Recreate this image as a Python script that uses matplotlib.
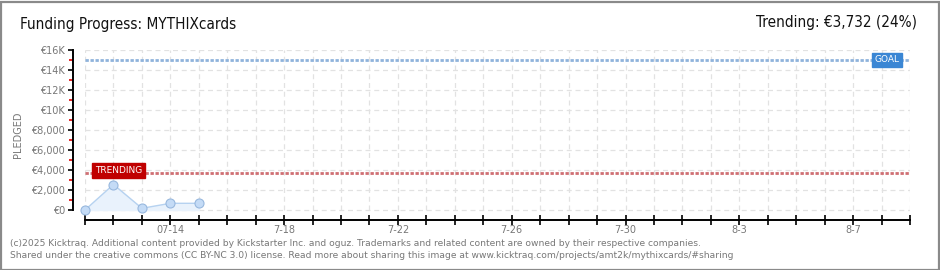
import numpy as np
import matplotlib
matplotlib.use('Agg')
import matplotlib.pyplot as plt
import matplotlib.dates as mdates
from matplotlib.patches import Rectangle

# data
dates = np.array(['2025-07-11', '2025-07-12', '2025-07-13', '2025-07-14', '2025-07-15'], dtype='datetime64[D]')
pledged = [0, 2550, 170, 670, 670]
goal = 15000
trending = 3732
x_start = np.datetime64('2025-07-11')
x_end = np.datetime64('2025-08-09')
tick_labels = {'2025-07-14': '07-14', '2025-07-18': '7-18', '2025-07-22': '7-22',
               '2025-07-26': '7-26', '2025-07-30': '7-30', '2025-08-03': '8-3',
               '2025-08-07': '8-7'}
y_ticks = [0, 2000, 4000, 6000, 8000, 10000, 12000, 14000, 16000]
y_labels = ['€0', '€2,000', '€4,000', '€6,000', '€8,000', '€10K', '€12K', '€14K', '€16K']

W, H = 940, 270
fig = plt.figure(figsize=(W / 100, H / 100), dpi=100)
fig.patches.append(Rectangle((0.5 / W, 0.5 / H), 1 - 2 / W, 1 - 2 / H, transform=fig.transFigure,
                             fill=False, edgecolor='#8a8a8a', linewidth=1.6))

ax = fig.add_axes([85 / W, 1 - 220 / H, 825 / W, 170 / H])
days = np.arange(x_start, x_end + 1)
ax.set_xlim(mdates.date2num(x_start), mdates.date2num(x_end))
ax.set_ylim(-1000, 16000)

# grid
for d in days:
    ax.plot([d, d], [0, 16000], color='#e2e2e2', lw=0.9, ls=(0, (4, 3)), zorder=0)
for v in y_ticks:
    ax.plot([x_start, x_end], [v, v], color='#e2e2e2', lw=0.9, ls=(0, (4, 3)), zorder=0)

# goal / trending lines
ax.axhline(goal, color='#8fb3dc', lw=2, ls=(0, (1.2, 0.6)), zorder=2)
ax.axhline(trending, color='#cf6f73', lw=2, ls=(0, (1.2, 0.6)), zorder=2)

# series
ax.fill_between(dates, pledged, 0, color='#e9f2fc', zorder=1)
ax.plot(dates, pledged, color='#b6d2f0', lw=1, marker='o', ms=6.5,
        mfc='#c4dbf6', mec='#98b8de', mew=0.8, zorder=3, clip_on=False)

# labels on lines
ax.text(mdates.date2num(np.datetime64('2025-07-11')) + 0.35, trending + 200, 'TRENDING',
        fontsize=6.5, color='white', va='center', ha='left', family='DejaVu Sans',
        bbox=dict(boxstyle='square,pad=0.3', fc='#c00000', ec='#c00000'), zorder=4)
ax.text(mdates.date2num(np.datetime64('2025-08-08')) - 0.25, goal, 'GOAL',
        fontsize=6.5, color='white', va='center', ha='left', family='DejaVu Sans',
        bbox=dict(boxstyle='square,pad=0.3', fc='#3a86d4', ec='#3a86d4'), zorder=4)

# spines
for s in ['top', 'right']:
    ax.spines[s].set_visible(False)
ax.spines['left'].set_position(('outward', 9))
ax.spines['left'].set_bounds(0, 16000)
ax.spines['bottom'].set_linewidth(1.4)
ax.spines['left'].set_linewidth(1.4)

ax.set_xticks(mdates.date2num(days))
ax.set_xticklabels([tick_labels.get(str(d), '') for d in days])
ax.tick_params(axis='x', direction='inout', length=7, width=1.2, labelsize=7,
               labelcolor='#777777', pad=0)
ax.set_yticks(y_ticks)
ax.set_yticklabels(y_labels)
ax.set_yticks(np.arange(1000, 16000, 2000), minor=True)
ax.tick_params(axis='y', which='major', direction='out', length=3.5, width=1.2,
               labelsize=7, labelcolor='#777777', pad=2)
ax.tick_params(axis='y', which='minor', direction='out', length=3, width=1.2, color='#e00000')
ax.set_ylabel('PLEDGED', fontsize=7, color='#777777', labelpad=6)

# titles and footer
fig.text(20 / W, 1 - 25 / H, 'Funding Progress: MYTHIXcards', fontsize=11, color='#111111',
         va='center', ha='left', fontstretch='condensed')
fig.text(917 / W, 1 - 22 / H, 'Trending: €3,732 (24%)', fontsize=11, color='#111111',
         va='center', ha='right', fontstretch='condensed')
fig.text(10 / W, 1 - 243 / H,
         '(c)2025 Kicktraq. Additional content provided by Kickstarter Inc. and oguz. '
         'Trademarks and related content are owned by their respective companies.',
         fontsize=6.6, color='#777777', va='center', ha='left')
fig.text(10 / W, 1 - 256 / H,
         'Shared under the creative commons (CC BY-NC 3.0) license. Read more about sharing '
         'this image at www.kicktraq.com/projects/amt2k/mythixcards/#sharing',
         fontsize=6.6, color='#777777', va='center', ha='left')

fig.savefig('out.png', dpi=100)
